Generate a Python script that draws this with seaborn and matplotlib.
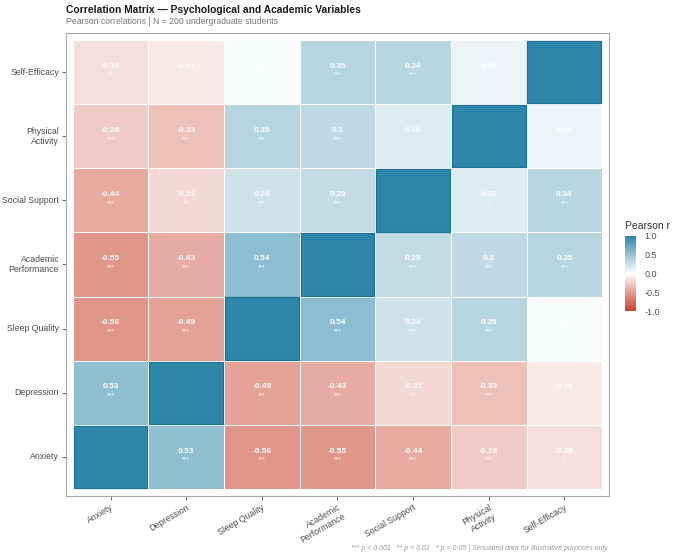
import numpy as np
import pandas as pd
import seaborn as sns
import matplotlib.pyplot as plt
from matplotlib.colors import LinearSegmentedColormap
from matplotlib.patches import Rectangle

# Variables (left-to-right on x, bottom-to-top on y)
variables = ["Anxiety", "Depression", "Sleep Quality", "Academic\nPerformance",
             "Social Support", "Physical\nActivity", "Self-Efficacy"]

# Upper-triangle correlations, row by row (Anxiety first)
r_anxiety = [0.53, -0.56, -0.55, -0.44, -0.28, -0.16]
r_depression = [-0.49, -0.43, -0.21, -0.33, -0.11]
r_sleep = [0.54, 0.24, 0.35, 0.03]
r_academic = [0.29, 0.30, 0.35]
r_social = [0.16, 0.34]
r_physical = [0.09]

# Significance stars, same layout
s_anxiety = ["***", "***", "***", "***", "***", "*"]
s_depression = ["***", "***", "**", "***", ""]
s_sleep = ["***", "***", "***", ""]
s_academic = ["***", "***", "***"]
s_social = ["*", "***"]
s_physical = [""]

n = len(variables)
corr = np.eye(n)
stars = np.full((n, n), "", dtype=object)
for i, (vals, sig) in enumerate(zip(
        [r_anxiety, r_depression, r_sleep, r_academic, r_social, r_physical],
        [s_anxiety, s_depression, s_sleep, s_academic, s_social, s_physical])):
    for k, (v, s) in enumerate(zip(vals, sig)):
        j = i + 1 + k
        corr[i, j] = corr[j, i] = v
        stars[i, j] = stars[j, i] = s

# Rows top-to-bottom: Self-Efficacy ... Anxiety
df = pd.DataFrame(corr, index=variables, columns=variables).iloc[::-1]
stars_df = pd.DataFrame(stars, index=variables, columns=variables).iloc[::-1]

plt.rcParams['font.family'] = ['Liberation Sans', 'DejaVu Sans']

cmap = LinearSegmentedColormap.from_list("rwb", ["#C9412B", "#FFFFFF", "#2E86A8"])

fig = plt.figure(figsize=(6.8, 5.56), dpi=100)
ax = fig.add_axes([0.097, 0.108, 0.7985, 0.8327])
cax = fig.add_axes([0.919, 0.4406, 0.016, 0.135])

sns.heatmap(df, cmap=cmap, vmin=-1, vmax=1, center=0, linewidths=0.7,
            linecolor="white", square=False, ax=ax, cbar_ax=cax,
            cbar_kws={"ticks": [-1, -0.5, 0, 0.5, 1]})

# Cell labels
for i in range(n):
    for j in range(n):
        v = df.iloc[i, j]
        if v == 1:
            ax.add_patch(Rectangle((j + 0.012, i + 0.014), 0.976, 0.972, fill=False,
                                   edgecolor="#1C7394", lw=0.9, zorder=3))
            continue
        lab = f"{v:.2f}".rstrip("0") if abs(v * 10 - round(v * 10)) < 1e-9 else f"{v:.2f}"
        ax.text(j + 0.5, i + 0.41, lab, ha="center", va="center", color="white",
                fontsize=6, fontweight="bold")
        if stars_df.iloc[i, j]:
            ax.text(j + 0.5, i + 0.55, stars_df.iloc[i, j], ha="center", va="center",
                    color="white", fontsize=4.8)

ax.set_xlim(-0.09, n + 0.09)
ax.set_ylim(n + 0.11, -0.11)
ax.set_xlabel("")
ax.set_ylabel("")
for sp in ax.spines.values():
    sp.set_visible(True)
    sp.set_color("#A8A8A8")
    sp.set_linewidth(0.8)
ax.tick_params(axis="both", colors="#555555", length=3, width=0.6, labelsize=6.3, pad=2)
ax.tick_params(axis="x", labelcolor="#4D4D4D")
ax.tick_params(axis="y", labelcolor="#4D4D4D")
ax.set_xticklabels(df.columns, rotation=30, ha="right", rotation_mode="anchor")
ax.set_yticklabels(df.index, rotation=0, ha="right")

# Colorbar styling
cax.tick_params(length=3, colors="white", labelcolor="#4D4D4D", labelsize=6.5, width=0.6, pad=3.5)
cax.set_yticklabels(["-1.0", "-0.5", "0.0", "0.5", "1.0"])
for sp in cax.spines.values():
    sp.set_visible(False)
fig.text(0.919, 0.585, "Pearson r", fontsize=7.5, color="#333333", ha="left", va="bottom")

# Titles and caption
fig.text(0.097, 0.982, "Correlation Matrix \u2014 Psychological and Academic Variables",
         fontsize=7.4, fontweight="bold", color="#1A1A1A", ha="left", va="center")
fig.text(0.097, 0.961, "Pearson correlations | N = 200 undergraduate students",
         fontsize=6.2, color="#777777", ha="left", va="center")
fig.text(0.8956, 0.008, "*** p < 0.001   ** p < 0.01   * p < 0.05 | Simulated data for illustrative purposes only.",
         fontsize=5, style="italic", color="#999999", ha="right", va="bottom")

fig.savefig("out.png", dpi=100, facecolor="white")
